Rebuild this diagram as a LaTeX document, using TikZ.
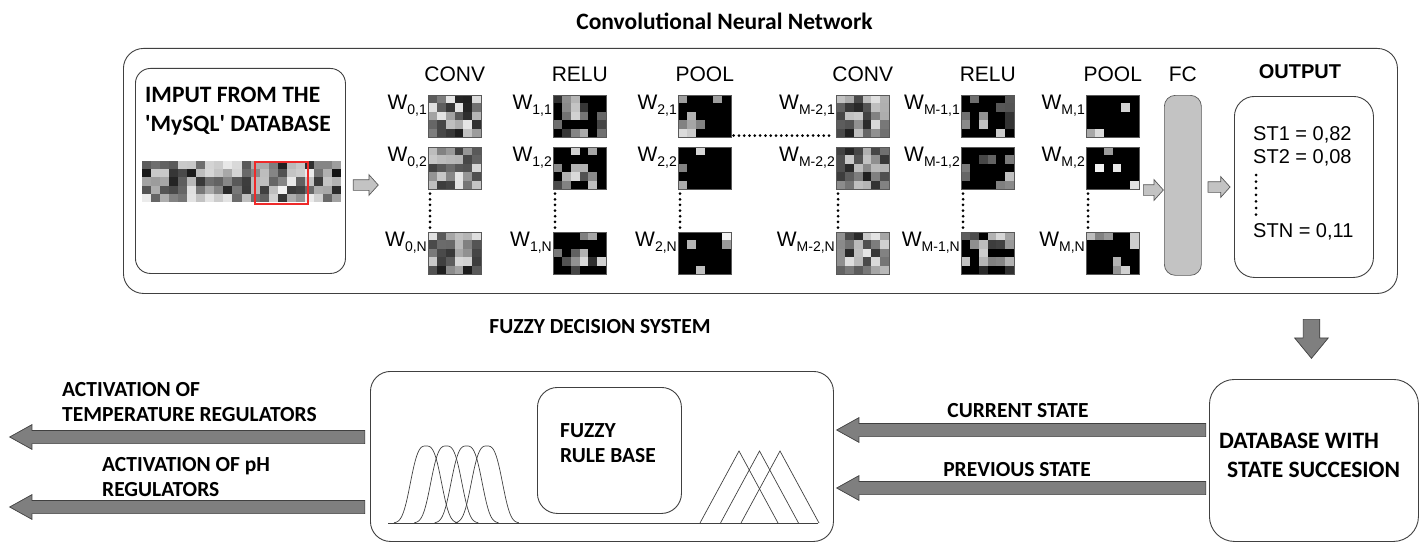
\documentclass[tikz,border=0pt]{standalone}
\usepackage{fontspec}
\setmainfont{Liberation Sans}
\newfontfamily\calibri{Carlito}
\usetikzlibrary{shapes.arrows,positioning,calc}

\definecolor{lightfill}{HTML}{C3C3C3}
\definecolor{darkfill}{HTML}{7F7F7F}
\definecolor{edge}{HTML}{404040}
\definecolor{winred}{HTML}{EE2A2A}

\newcommand\wsub[1]{\raisebox{-5pt}{\fontsize{14}{14}\selectfont#1}}
% grey levels of the feature maps
\newcommand\convshade{10+80*rnd}
\newcommand\relushade{rnd<0.55 ? 100 : 15+70*rnd}
\newcommand\poolshade{rnd<0.8 ? 100 : 5+45*rnd}
% feature map: name, x, y, shade
\newcommand\fmap[4]{%
  \foreach \i in {0,...,5}
    \foreach \j in {0,...,4}{
      \pgfmathtruncatemacro\shd{#4}
      \fill[black!\shd] ({#2+\i*53/6},{#3+\j*42/5}) rectangle ++(53/6,42/5);
    }
  \node[map] (#1) at (#2,#3) {};
}

\begin{document}
\begin{tikzpicture}
      [x=1pt, y=-1pt,
      rbox/.style={draw=edge, line width=0.9pt, rounded corners=#1, inner sep=0pt, anchor=north west},
      rbox/.default=20pt,
      map/.style={draw=black!65, line width=0.6pt, minimum width=53pt, minimum height=42pt, inner sep=0pt, anchor=north west},
      lab/.style={font=\fontsize{21}{24}\selectfont, inner sep=0pt},
      wlab/.style={lab, anchor=north east, xshift=-1pt},
      boldtext/.style={font=\calibri\bfseries\fontsize{21.5}{25.5}\selectfont, inner sep=0pt, align=left},
      bigbold/.style={boldtext, font=\calibri\bfseries\fontsize{23.5}{29}\selectfont},
      hollow/.style={single arrow, draw=black!65, fill=lightfill, line width=0.7pt, inner sep=5pt,
        single arrow head extend=5pt, single arrow tip angle=96, anchor=tail},
      bigarrow/.style={single arrow, draw=edge, fill=darkfill, line width=0.7pt, inner sep=6.25pt,
        single arrow head extend=5.75pt, single arrow tip angle=58, anchor=tail},
      dotline/.style={line width=3pt, line cap=round, dash pattern=on 0pt off #1},
      dotline/.default=5.66pt,
      fzline/.style={draw=edge, line width=0.7pt},
      ]
      \useasboundingbox (0,0) rectangle (1426,543);
      \pgfmathsetseed{11}

      % convolutional network
      \node[bigbold, anchor=base] (cnntitle) at (724.5,30) {Convolutional Neural Network};
      \node[rbox=20pt, minimum width=1274pt, minimum height=245pt] (cnn) at (123,48) {};
      \node[rbox=15pt, minimum width=210pt, minimum height=205pt] (input) at (135,68) {};
      \node[bigbold, anchor=north west] (inputtext) at (145,87)
        {IMPUT FROM THE\\\textquotesingle MySQL\textquotesingle\ DATABASE};

      \foreach \i in {0,...,21}
        \foreach \j in {0,...,4}{
          \pgfmathtruncatemacro\shd{5+90*rnd}
          \fill[black!\shd] ({142+\i*199/22},{161+\j*41/5}) rectangle ++(199/22,41/5);
        }
      \node[inner sep=0pt, minimum width=199pt, minimum height=41pt, anchor=north west] (strip) at (142,161) {};
      \node[draw=winred, line width=1.6pt, inner sep=0pt, minimum width=53pt, minimum height=42pt,
        anchor=north west] (win) at (254,161) {};
      \node[hollow, minimum height=25pt] (a0) at ($(input.east |- 0,185)+(7,0)$) {};

      \foreach \xx/\shd/\idx/\ttl [count=\col] in {428/\convshade/0/CONV, 553/\relushade/1/RELU,
          678/\poolshade/2/POOL, 836/\convshade/M-2/CONV, 961/\relushade/M-1/RELU, 1086/\poolshade/M/POOL}{
        \foreach \yy/\rw in {95/1, 147/2, 232/N}{
          \fmap{m\col\rw}{\xx}{\yy}{\shd}
          \node[wlab] (w\col\rw) at (m\col\rw.north west) {W\wsub{\idx,\rw}};
        }
        \node[lab, anchor=base] (t\col) at (m\col 1.north |- 0,81.5) {\ttl};
        \draw[dotline] ([xshift=2pt,yshift=-4pt]m\col 2.south west) -- ([xshift=2pt,yshift=4pt]m\col N.north west);
      }
      \draw[dotline=5.3pt] ([xshift=2pt,yshift=2pt]m31.south east) -- ([xshift=-2pt,yshift=2pt]m41.south west);

      \node[draw=black!65, fill=lightfill, line width=0.7pt, rounded corners=11pt, minimum width=37pt,
        minimum height=180pt, inner sep=0pt, anchor=north west] (fc) at (1164,95) {};
      \node[lab, anchor=base] (fctext) at (fc.north |- 0,81.5) {FC};
      \node[hollow, minimum height=20pt] (a1) at ($(fc.west |- 0,190)+(-21,0)$) {};
      \node[hollow, minimum height=22pt] (a2) at ($(fc.east |- 0,187)+(6,0)$) {};

      \node[rbox=20pt, minimum width=139pt, minimum height=181pt] (out) at (1234,96) {};
      \node[lab, font=\bfseries\fontsize{20}{24}\selectfont, anchor=base] (outtext) at (1300,78.5) {OUTPUT};
      \node[lab, font=\fontsize{20}{24}\selectfont, anchor=base west] (st1) at (1253,140) {ST1 = 0,82};
      \node[lab, font=\fontsize{20}{24}\selectfont, anchor=base west] (st2) at (1253,163) {ST2 = 0,08};
      \node[lab, font=\fontsize{20}{24}\selectfont, anchor=base west] (stn) at (1253,237) {STN = 0,11};
      \draw[dotline=6.6pt] ([xshift=3pt,yshift=-12pt]st2.base west) -- ([xshift=3pt,yshift=21pt]stn.base west);

      % fuzzy decision system
      \node[boldtext, anchor=base] (fztitle) at (600,333.3) {FUZZY DECISION SYSTEM};
      \node[rbox=20pt, minimum width=463pt, minimum height=170pt] (fz) at (370,371) {};
      \node[rbox=20pt, minimum width=144pt, minimum height=126pt] (rules) at (537,387) {};
      \node[boldtext, anchor=north west] (rulestext) at (560,423) {FUZZY\\RULE BASE};
      \draw[fzline] (388,523) -- (818,523);
      \foreach \p in {426,446.3,466.6,486.9}{
        \pgfmathsetmacro\lo{\p-32}
        \pgfmathsetmacro\hi{\p+32}
        \draw[fzline] plot[domain=\lo:\hi, samples=61, smooth]
          (\x, {523-77*exp(-(abs(\x-\p)/18)^3)});
      }
      \foreach \p in {739,759.5,780}
        \draw[fzline] (\p-39,523) -- (\p,451) -- (\p+39,523);

      \node[bigarrow, rotate=180, minimum height=355pt] (temp) at ($(fz.west |- 0,437)+(-5,0)$) {};
      \node[bigarrow, rotate=180, minimum height=355pt] (ph) at ($(fz.west |- 0,507)+(-5,0)$) {};
      \node[boldtext, anchor=north west] (temptext) at (62,381.7) {ACTIVATION OF\\TEMPERATURE REGULATORS};
      \node[boldtext, anchor=north west] (phtext) at (102,456.7) {ACTIVATION OF pH\\REGULATORS};

      \node[rbox=25pt, minimum width=209pt, minimum height=162pt] (db) at (1209,379) {};
      \node[bigbold, anchor=north west] (dbtext) at (1219,433.3) {DATABASE WITH\\\hspace*{8pt}STATE SUCCESION};
      \node[bigarrow, rotate=180, minimum height=369pt] (cur) at ($(db.west |- 0,430)+(-3,0)$) {};
      \node[bigarrow, rotate=180, minimum height=369pt] (prev) at ($(db.west |- 0,488)+(-3,0)$) {};
      \node[boldtext, anchor=base] (curtext) at (1018,417.3) {CURRENT STATE};
      \node[boldtext, anchor=base] (prevtext) at (1017,476.7) {PREVIOUS STATE};
      \node[bigarrow, rotate=-90, minimum height=39pt, inner sep=8pt, single arrow head extend=8.5pt,
        single arrow tip angle=79] (down) at ($(db.north)+(-2.5,-60)$) {};
    \end{tikzpicture}
\end{document}
